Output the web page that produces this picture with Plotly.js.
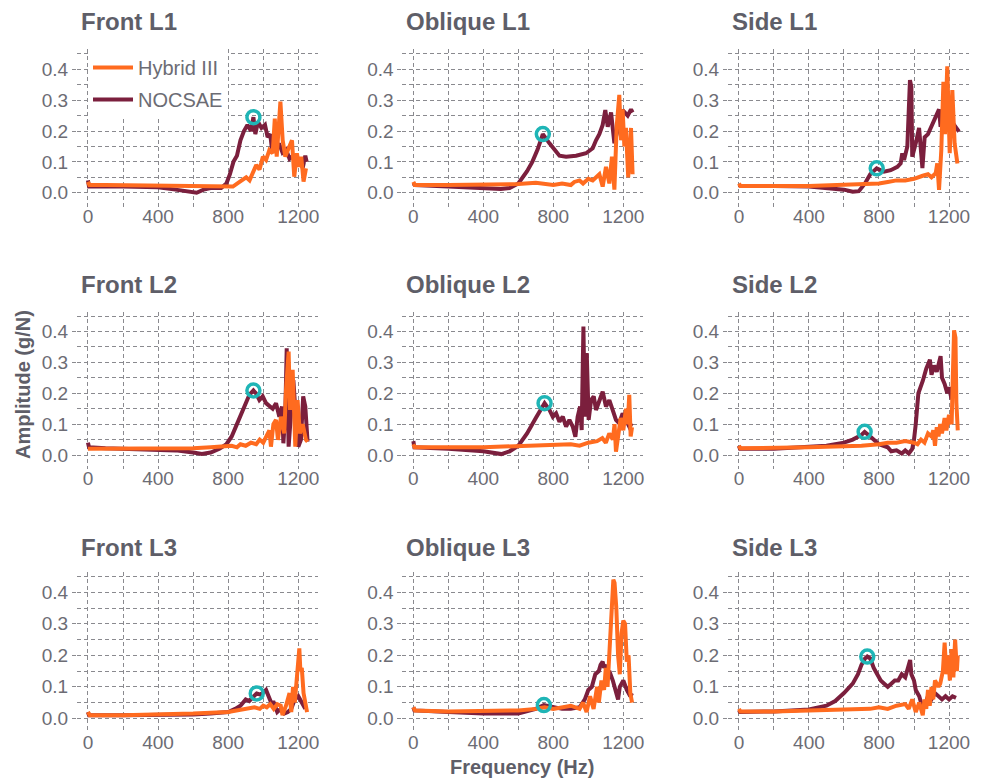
<!DOCTYPE html>
<html>
<head>
<meta charset="utf-8">
<script src="https://cdn.plot.ly/plotly-3.0.1.min.js"></script>
<style>html,body{margin:0;padding:0;background:#fff;}#chart{width:984px;height:781px;}</style>
</head>
<body>
<div id="chart"></div>
<script>
// ---------- DATA ----------
const panelTitles = ["Front L1","Oblique L1","Side L1","Front L2","Oblique L2","Side L2","Front L3","Oblique L3","Side L3"];
const seriesNames = ["Hybrid III","NOCSAE"];
const xTickVals = [0,400,800,1200];
const yTickVals = [0.0,0.1,0.2,0.3,0.4];

// Front L1
const frontL1HybridHz = [0,8,100,300,500,700,760,827,865,903,922,941,960,979,998,1016,1035,1054,1066,1077,1098,1111,1126,1145,1164,1177,1192,1206,1217,1230,1244];
const frontL1Hybrid   = [0.035,0.025,0.025,0.024,0.022,0.02,0.022,0.02,0.035,0.05,0.04,0.063,0.09,0.075,0.117,0.106,0.138,0.128,0.24,0.117,0.295,0.17,0.117,0.144,0.17,0.052,0.128,0.084,0.117,0.036,0.079];
const frontL1NocsaeHz = [0,6,200,400,500,560,620,660,700,760,790,810,830,850,870,890,910,930,944,955,970,990,1010,1025,1040,1050,1060,1075,1090,1110,1130,1150,1170,1190,1210,1225,1240,1248];
const frontL1Nocsae   = [0.04,0.02,0.02,0.018,0.01,0.005,0.0,0.01,0.015,0.015,0.03,0.06,0.1,0.12,0.17,0.2,0.22,0.2,0.245,0.19,0.23,0.21,0.22,0.18,0.19,0.14,0.17,0.14,0.16,0.13,0.14,0.11,0.12,0.09,0.11,0.08,0.12,0.1];

// Oblique L1
const obliqueL1HybridHz = [0,8,200,400,600,700,750,800,850,900,920,950,970,1000,1025,1063,1082,1101,1120,1135,1149,1162,1177,1187,1196,1206,1215,1228,1244,1253];
const obliqueL1Hybrid   = [0.035,0.025,0.025,0.025,0.028,0.032,0.03,0.025,0.03,0.025,0.035,0.04,0.03,0.045,0.04,0.06,0.02,0.084,0.03,0.117,0.01,0.214,0.317,0.17,0.27,0.15,0.21,0.05,0.21,0.06];
const obliqueL1NocsaeHz = [0,8,200,400,500,550,600,650,680,710,740,778,835,873,930,987,1025,1044,1063,1082,1097,1111,1130,1149,1168,1196,1225,1244,1253];
const obliqueL1Nocsae   = [0.03,0.025,0.02,0.013,0.012,0.015,0.03,0.07,0.1,0.14,0.19,0.16,0.12,0.117,0.12,0.128,0.144,0.17,0.19,0.22,0.268,0.214,0.26,0.16,0.2,0.268,0.25,0.27,0.26];

// Side L1
const sideL1HybridHz = [0,8,400,600,700,800,850,900,950,1000,1050,1080,1100,1124,1133,1143,1156,1168,1177,1190,1204,1219,1232,1248];
const sideL1Hybrid   = [0.03,0.022,0.022,0.025,0.028,0.03,0.035,0.04,0.04,0.045,0.055,0.06,0.05,0.063,0.095,0.009,0.138,0.36,0.19,0.41,0.128,0.333,0.16,0.095];
const sideL1NocsaeHz = [0,8,200,400,600,650,685,720,750,787,829,867,905,924,933,943,962,977,985,990,1010,1029,1048,1061,1080,1105,1124,1143,1152,1181,1210,1238,1257];
const sideL1Nocsae   = [0.025,0.022,0.022,0.02,0.01,0.003,0.005,0.03,0.06,0.079,0.068,0.073,0.084,0.095,0.128,0.106,0.15,0.365,0.344,0.117,0.16,0.21,0.08,0.18,0.19,0.225,0.25,0.27,0.214,0.27,0.235,0.214,0.198];

// Front L2
const frontL2HybridHz = [0,100,400,600,700,780,820,850,870,900,930,960,980,1000,1020,1035,1044,1058,1073,1084,1101,1120,1130,1145,1153,1168,1183,1196,1209,1225,1244,1253];
const frontL2Hybrid   = [0.02,0.02,0.02,0.022,0.025,0.03,0.03,0.025,0.035,0.03,0.04,0.035,0.05,0.04,0.06,0.08,0.027,0.1,0.114,0.049,0.124,0.07,0.21,0.335,0.146,0.276,0.027,0.178,0.07,0.1,0.049,0.043];
const frontL2NocsaeHz = [0,6,100,300,500,600,650,700,750,790,820,850,880,900,921,944,959,978,997,1016,1035,1054,1073,1092,1107,1115,1126,1134,1145,1158,1172,1187,1200,1215,1228,1240,1253];
const frontL2Nocsae   = [0.04,0.025,0.022,0.02,0.015,0.008,0.003,0.008,0.02,0.035,0.06,0.1,0.14,0.17,0.195,0.209,0.2,0.178,0.19,0.168,0.157,0.15,0.168,0.124,0.157,0.038,0.135,0.346,0.027,0.135,0.243,0.114,0.027,0.049,0.19,0.157,0.043];

// Oblique L2
const obliqueL2HybridHz = [0,8,400,600,700,800,900,950,1000,1050,1080,1100,1120,1140,1150,1158,1170,1185,1200,1215,1225,1234,1242,1250];
const obliqueL2Hybrid   = [0.035,0.025,0.025,0.03,0.03,0.035,0.035,0.03,0.04,0.045,0.055,0.04,0.07,0.05,0.1,0.011,0.06,0.12,0.08,0.15,0.1,0.195,0.06,0.09];
const obliqueL2NocsaeHz = [0,6,200,400,503,550,600,650,700,730,750,778,797,816,835,854,873,892,911,926,939,953,962,972,980,991,1002,1016,1031,1044,1063,1082,1101,1120,1139,1158,1177,1196,1215,1234,1249];
const obliqueL2Nocsae   = [0.045,0.025,0.02,0.012,0.003,0.012,0.03,0.07,0.12,0.15,0.168,0.146,0.124,0.135,0.108,0.124,0.092,0.114,0.092,0.059,0.124,0.157,0.081,0.416,0.124,0.33,0.114,0.178,0.19,0.146,0.178,0.205,0.157,0.178,0.146,0.114,0.103,0.135,0.114,0.092,0.103];

// Side L2
const sideL2HybridHz = [0,8,400,600,700,800,850,900,950,1000,1020,1040,1060,1080,1100,1110,1120,1130,1140,1150,1160,1175,1185,1200,1215,1222,1229,1237,1242,1250];
const sideL2Hybrid   = [0.03,0.022,0.025,0.028,0.03,0.035,0.04,0.04,0.045,0.04,0.035,0.05,0.04,0.07,0.06,0.08,0.03,0.09,0.06,0.1,0.07,0.12,0.08,0.13,0.1,0.26,0.404,0.38,0.17,0.08];
const sideL2NocsaeHz = [0,6,200,400,500,600,650,700,718,750,780,800,850,870,900,930,950,970,990,1000,1010,1025,1050,1070,1091,1100,1115,1130,1152,1160,1175,1190,1200,1215];
const sideL2Nocsae   = [0.03,0.02,0.02,0.025,0.03,0.04,0.05,0.065,0.075,0.06,0.045,0.035,0.025,0.012,0.015,0.005,0.015,0.005,0.02,0.05,0.1,0.2,0.24,0.28,0.309,0.26,0.29,0.27,0.32,0.25,0.23,0.2,0.22,0.18];

// Front L3
const frontL3HybridHz = [0,10,200,400,600,800,850,900,950,980,1000,1020,1040,1060,1080,1100,1110,1130,1150,1160,1170,1180,1190,1200,1206,1212,1220,1230,1240,1250];
const frontL3Hybrid   = [0.02,0.01,0.01,0.012,0.015,0.02,0.025,0.03,0.035,0.03,0.04,0.035,0.045,0.03,0.045,0.04,0.01,0.04,0.08,0.02,0.1,0.05,0.12,0.18,0.222,0.15,0.16,0.08,0.04,0.02];
const frontL3NocsaeHz = [0,6,200,400,600,700,800,840,870,900,920,963,985,1016,1030,1045,1060,1080,1100,1120,1140,1160,1180,1200,1220,1240];
const frontL3Nocsae   = [0.02,0.01,0.01,0.01,0.012,0.015,0.02,0.03,0.04,0.06,0.055,0.079,0.075,0.09,0.07,0.05,0.05,0.02,0.03,0.015,0.02,0.03,0.06,0.07,0.05,0.03];

// Oblique L3
const obliqueL3HybridHz = [0,10,200,400,600,700,750,800,850,900,950,970,990,1010,1030,1050,1060,1075,1090,1100,1110,1120,1130,1143,1150,1160,1170,1180,1190,1200,1210,1220,1230,1240,1250];
const obliqueL3Hybrid   = [0.035,0.025,0.022,0.022,0.025,0.03,0.035,0.03,0.035,0.04,0.03,0.05,0.02,0.07,0.03,0.1,0.05,0.12,0.09,0.16,0.1,0.2,0.35,0.44,0.43,0.35,0.2,0.14,0.27,0.31,0.3,0.18,0.2,0.08,0.05];
const obliqueL3NocsaeHz = [0,6,200,400,600,700,746,800,850,900,950,980,1000,1020,1040,1060,1070,1082,1090,1100,1110,1120,1140,1160,1170,1180,1200,1220,1240,1250];
const obliqueL3Nocsae   = [0.035,0.025,0.02,0.015,0.015,0.03,0.042,0.035,0.03,0.03,0.035,0.06,0.09,0.1,0.14,0.15,0.17,0.18,0.16,0.17,0.14,0.15,0.12,0.08,0.06,0.1,0.12,0.09,0.07,0.08];

// Side L3
const sideL3HybridHz = [0,8,200,400,600,700,750,800,850,900,950,970,990,1010,1030,1050,1060,1070,1080,1090,1100,1110,1120,1140,1150,1165,1175,1185,1195,1205,1215,1225,1235,1245,1250];
const sideL3Hybrid   = [0.03,0.022,0.022,0.025,0.028,0.03,0.03,0.035,0.03,0.04,0.045,0.03,0.06,0.02,0.05,0.01,0.06,0.03,0.09,0.04,0.1,0.06,0.12,0.1,0.11,0.15,0.24,0.14,0.2,0.12,0.22,0.13,0.25,0.15,0.2];
const sideL3NocsaeHz = [0,6,200,400,500,550,600,650,680,700,720,733,750,770,790,810,830,850,870,890,910,930,950,965,978,985,1000,1010,1030,1050,1060,1080,1100,1120,1140,1160,1180,1200,1220,1240];
const sideL3Nocsae   = [0.025,0.02,0.022,0.028,0.04,0.055,0.08,0.11,0.14,0.17,0.19,0.196,0.19,0.16,0.14,0.12,0.11,0.1,0.11,0.12,0.12,0.14,0.13,0.16,0.185,0.14,0.12,0.09,0.07,0.03,0.04,0.07,0.06,0.08,0.07,0.06,0.07,0.06,0.07,0.065];

// NOCSAE peak markers (one per panel, same order as panelTitles)
const peakHz  = [944,740,787,944,750,718,963,746,733];
const peakAmp = [0.245,0.19,0.079,0.209,0.168,0.075,0.079,0.042,0.196];

// ---------- BUILD ----------
const hybridHz = [frontL1HybridHz,obliqueL1HybridHz,sideL1HybridHz,frontL2HybridHz,obliqueL2HybridHz,sideL2HybridHz,frontL3HybridHz,obliqueL3HybridHz,sideL3HybridHz];
const hybridAmp = [frontL1Hybrid,obliqueL1Hybrid,sideL1Hybrid,frontL2Hybrid,obliqueL2Hybrid,sideL2Hybrid,frontL3Hybrid,obliqueL3Hybrid,sideL3Hybrid];
const nocsaeHz = [frontL1NocsaeHz,obliqueL1NocsaeHz,sideL1NocsaeHz,frontL2NocsaeHz,obliqueL2NocsaeHz,sideL2NocsaeHz,frontL3NocsaeHz,obliqueL3NocsaeHz,sideL3NocsaeHz];
const nocsaeAmp = [frontL1Nocsae,obliqueL1Nocsae,sideL1Nocsae,frontL2Nocsae,obliqueL2Nocsae,sideL2Nocsae,frontL3Nocsae,obliqueL3Nocsae,sideL3Nocsae];

const W = 984, H = 781;
const ORANGE = '#ff6b1f', MAROON = '#7b1f3d', CYAN = '#1fb5b6';
const GRID = '#8a8a8f', TXT = '#6c6c74', TTL = '#5e5e68';
const FONT = 'Liberation Sans, Arial, Helvetica, sans-serif';

const colPx = [[77,318],[402.4,643],[728,968.7]];
const rowPx = [[49.3,206.6],[311.5,468.9],[571.8,732.5]];
const titleY = [21,284,547];

const traces = [];
const layout = {
  width: W, height: H,
  margin: {l:0,r:0,t:0,b:0},
  paper_bgcolor: '#ffffff', plot_bgcolor: '#ffffff',
  font: {family: FONT, color: TXT, size: 19},
  showlegend: true,
  legend: {
    x: 88/W, y: 1-48/H, xanchor: 'left', yanchor: 'top',
    bgcolor: '#ffffff', borderwidth: 0,
    font: {family: FONT, size: 20, color: TXT},
    traceorder: 'grouped', tracegroupgap: 3, itemwidth: 40
  },
  annotations: [],
  hovermode: false
};

for (let i = 0; i < 9; i++) {
  const r = Math.floor(i/3), c = i % 3;
  const sfx = i === 0 ? '' : String(i+1);
  const xa = 'x'+sfx, ya = 'y'+sfx;
  traces.push({
    x: nocsaeHz[i], y: nocsaeAmp[i], xaxis: xa, yaxis: ya, type: 'scatter', mode: 'lines',
    name: seriesNames[1], legendgroup: 'n', legendrank: 2, showlegend: i === 0,
    line: {color: MAROON, width: 4, shape: 'linear'}
  });
  traces.push({
    x: hybridHz[i], y: hybridAmp[i], xaxis: xa, yaxis: ya, type: 'scatter', mode: 'lines',
    name: seriesNames[0], legendgroup: 'h', legendrank: 1, showlegend: i === 0,
    line: {color: ORANGE, width: 4, shape: 'linear'}
  });
  traces.push({
    x: [peakHz[i]], y: [peakAmp[i]], xaxis: xa, yaxis: ya, type: 'scatter', mode: 'markers',
    showlegend: false,
    marker: {symbol: 'circle-open', size: 13, color: CYAN, line: {color: CYAN, width: 3.5}}
  });
  layout['xaxis'+sfx] = {
    domain: [colPx[c][0]/W, colPx[c][1]/W], anchor: ya,
    range: [-62.5, 1312.5], tickvals: xTickVals, ticktext: xTickVals.map(String),
    showgrid: true, gridcolor: GRID, gridwidth: 1, griddash: '4px,3px',
    minor: {dtick: 200, tick0: 0, showgrid: true, gridcolor: GRID, gridwidth: 1, griddash: '4px,3px'},
    zeroline: false, showline: false,
    ticks: '', ticklabelstandoff: -4,
    tickfont: {family: FONT, size: 19, color: TXT}, fixedrange: true
  };
  layout['yaxis'+sfx] = {
    domain: [1-rowPx[r][1]/H, 1-rowPx[r][0]/H], anchor: xa,
    range: [-0.045, 0.465], tickvals: yTickVals, ticktext: yTickVals.map(v => v.toFixed(1)),
    showgrid: true, gridcolor: GRID, gridwidth: 1, griddash: '4px,3px',
    minor: {dtick: 0.05, tick0: 0, showgrid: true, gridcolor: GRID, gridwidth: 1, griddash: '4px,3px'},
    zeroline: false, showline: false,
    ticks: 'outside', ticklen: 4, tickcolor: GRID,
    tickfont: {family: FONT, size: 19, color: TXT}, fixedrange: true
  };
  layout.annotations.push({
    text: '<b>' + panelTitles[i] + '</b>', xref: 'paper', yref: 'paper',
    x: (colPx[c][0]+2)/W, y: 1 - titleY[r]/H, xanchor: 'left', yanchor: 'middle',
    showarrow: false, font: {family: FONT, size: 24, color: TTL}
  });
}

layout.annotations.push({
  text: '<b>Amplitude (g/N)</b>', xref: 'paper', yref: 'paper',
  x: 23/W, y: 1-385/H, xanchor: 'center', yanchor: 'middle', textangle: -90,
  showarrow: false, font: {family: FONT, size: 20, color: TTL}
});
layout.annotations.push({
  text: '<b>Frequency (Hz)</b>', xref: 'paper', yref: 'paper',
  x: 522/W, y: 1-767/H, xanchor: 'center', yanchor: 'middle',
  showarrow: false, font: {family: FONT, size: 20, color: TTL}
});

Plotly.newPlot('chart', traces, layout, {displayModeBar: false, staticPlot: true});
</script>
</body>
</html>
